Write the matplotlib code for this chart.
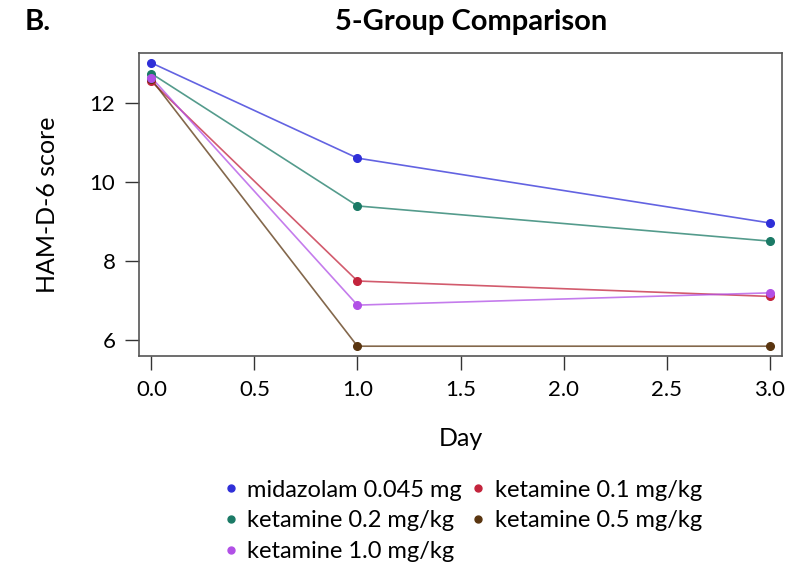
import matplotlib.pyplot as plt
from matplotlib.lines import Line2D

plt.rcParams['font.family'] = ['Lato', 'DejaVu Sans']

days = [0, 1, 3]
groups = ['midazolam 0.045 mg', 'ketamine 0.1 mg/kg', 'ketamine 0.2 mg/kg',
          'ketamine 0.5 mg/kg', 'ketamine 1.0 mg/kg']
midazolam = [13.02, 10.61, 8.97]
ket_01 = [12.55, 7.50, 7.11]
ket_02 = [12.75, 9.40, 8.51]
ket_05 = [12.60, 5.85, 5.85]
ket_10 = [12.65, 6.89, 7.20]
colors = ['#2f2fd8', '#c3243c', '#1b7a66', '#5a3510', '#b150e6']

series = [midazolam, ket_01, ket_02, ket_05, ket_10]

fig = plt.figure(figsize=(8.05, 5.67), dpi=100)
ax = fig.add_axes([0.1727, 0.372, 0.7987, 0.5345])

handles = {}
for name, vals, col in zip(groups, series, colors):
    ax.plot(days, vals, color=col, lw=1.2, alpha=0.75, zorder=2)
    ax.plot(days, vals, 'o', color=col, ms=5.5, zorder=3)
    handles[name] = Line2D([], [], marker='o', ls='none', color=col, ms=5)

ax.set_xlim(-0.06, 3.06)
ax.set_ylim(5.6, 13.27)
ax.set_xticks([0, 0.5, 1, 1.5, 2, 2.5, 3])
ax.set_xticklabels(['0.0', '0.5', '1.0', '1.5', '2.0', '2.5', '3.0'])
ax.set_yticks([6, 8, 10, 12])
ax.tick_params(labelsize=16, length=10, width=1, color='#333333', pad=7)
for s in ax.spines.values():
    s.set_color('#555555')
    s.set_linewidth(1.2)

ax.set_xlabel('Day', fontsize=18, labelpad=20)
ax.set_ylabel('HAM-D-6 score', fontsize=18, labelpad=22)

fig.text(0.585, 0.962, '5-Group Comparison', fontsize=21, fontweight='bold',
         ha='center', va='center')
fig.text(0.03, 0.962, 'B.', fontsize=21, fontweight='bold', ha='left', va='center')

order = ['midazolam 0.045 mg', 'ketamine 0.2 mg/kg', 'ketamine 1.0 mg/kg',
         'ketamine 0.1 mg/kg', 'ketamine 0.5 mg/kg']
fig.legend([handles[k] for k in order], order, ncol=2, loc='upper center',
           bbox_to_anchor=(0.575, 0.175), frameon=False, fontsize=17,
           handlelength=0.6, handletextpad=0.4, columnspacing=0.4,
           labelspacing=0.42, borderpad=0)

fig.savefig('out.png', dpi=100)
